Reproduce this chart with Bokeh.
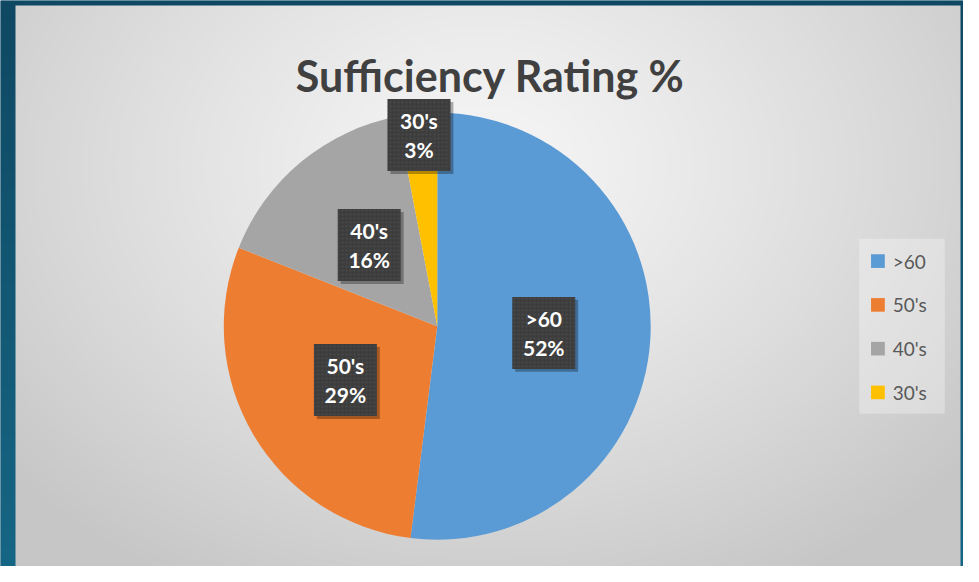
import numpy as np
from bokeh.plotting import figure
from bokeh.models import Range1d
from bokeh.core.properties import value
from bokeh.embed import file_html
from bokeh.resources import INLINE

# ---- data ----
categories = [">60", "50's", "40's", "30's"]
shares = [52, 29, 16, 3]
colors = ["#5B9BD5", "#ED7D31", "#A5A5A5", "#FFC000"]
title_text = "Sufficiency Rating %"

# ---- layout (style) ----
W, H = 963, 566          # figure size in px
RW, RH = 979, 582        # drawing coordinate space
FONT = "Lato"
label_radius_frac = [0.5, 0.5, 0.5, 0.91]


def sy(screen_y):
    return RH - screen_y


p = figure(width=W, height=H, x_range=Range1d(0, RW), y_range=Range1d(0, RH),
           output_backend="svg", toolbar_location=None,
           x_axis_type=None, y_axis_type=None, min_border=0)
p.outline_line_color = None
p.grid.visible = False
p.background_fill_color = "#134f6d"
p.border_fill_color = "#134f6d"

# ---- background image: dark blue frame + radial grey gradient ----
rows = np.arange(RH)
cols = np.arange(RW)
scr_y = (RH - 0.5) - rows[:, None] + np.zeros((1, RW))
scr_x = 0.5 + cols[None, :] + np.zeros((RH, 1))
d = np.sqrt((scr_x - 490) ** 2 + ((scr_y - 170) * 1.3) ** 2)
t = np.clip(d / 640.0, 0, 1) ** 1.2
g = 246 - 48 * t
rgba = np.zeros((RH, RW, 4), dtype=np.uint8)
rgba[..., 0] = g
rgba[..., 1] = g
rgba[..., 2] = g
rgba[..., 3] = 255
frame = (scr_x < 15) | (scr_y < 5) | (scr_x > 976)
f = scr_y / RH
rgba[..., 0] = np.where(frame, 15 + 7 * f, rgba[..., 0])
rgba[..., 1] = np.where(frame, 72 + 30 * f, rgba[..., 1])
rgba[..., 2] = np.where(frame, 98 + 35 * f, rgba[..., 2])
img = rgba.view(dtype=np.uint32).reshape(RH, RW)
p.image_rgba(image=[img], x=0, y=0, dw=RW, dh=RH)

# ---- title ----
p.text(x=[498], y=[sy(77)], text=[title_text], text_font=value(FONT),
       text_font_style="bold", text_font_size="43px", text_color="#404040",
       text_align="center", text_baseline="alphabetic")

# ---- pie ----
cx, cy, r = 444, sy(335), 217
total = float(sum(shares))
cum = np.cumsum([0] + shares) / total
starts = [np.pi / 2 - 2 * np.pi * cum[i] for i in range(len(shares))]
ends = [np.pi / 2 - 2 * np.pi * cum[i + 1] for i in range(len(shares))]
p.wedge(x=cx, y=cy, radius=r, start_angle=starts, end_angle=ends,
        direction="clock", fill_color=colors, line_color=None)

# ---- data labels ----
mids = [(s + e) / 2 for s, e in zip(starts, ends)]
lx = [cx + r * fr * np.cos(m) for m, fr in zip(mids, label_radius_frac)]
ly = [cy + r * fr * np.sin(m) for m, fr in zip(mids, label_radius_frac)]
bw, bh = 64, 74
p.rect(x=[x + 3 for x in lx], y=[y - 3 for y in ly], width=bw, height=bh,
       fill_color="black", fill_alpha=0.3, line_color=None)
p.rect(x=lx, y=ly, width=bw, height=bh, fill_color="#3d3d3d", line_color=None,
       hatch_pattern="dot", hatch_color="#4a4a4a", hatch_scale=4)
p.text(x=lx, y=[y + 15 for y in ly], text=categories, text_font=value(FONT),
       text_font_style="bold", text_font_size="21px", text_color="white",
       text_align="center", text_baseline="middle")
p.text(x=lx, y=[y - 15 for y in ly], text=[f"{v}%" for v in shares],
       text_font=value(FONT), text_font_style="bold", text_font_size="21px",
       text_color="white", text_align="center", text_baseline="middle")

# ---- legend ----
p.rect(x=[916.5], y=[sy(335)], width=87, height=180, fill_color="white",
       fill_alpha=0.3, line_color=None)
leg_y = [sy(268 + 45 * i) for i in range(len(categories))]
p.rect(x=[892] * len(categories), y=leg_y, width=14, height=14,
       fill_color=colors, line_color=None)
p.text(x=[907] * len(categories), y=leg_y, text=categories, text_font=value(FONT),
       text_font_size="19px", text_color="#595959", text_align="left",
       text_baseline="middle")

open("out.html", "w").write(file_html(p, INLINE))
